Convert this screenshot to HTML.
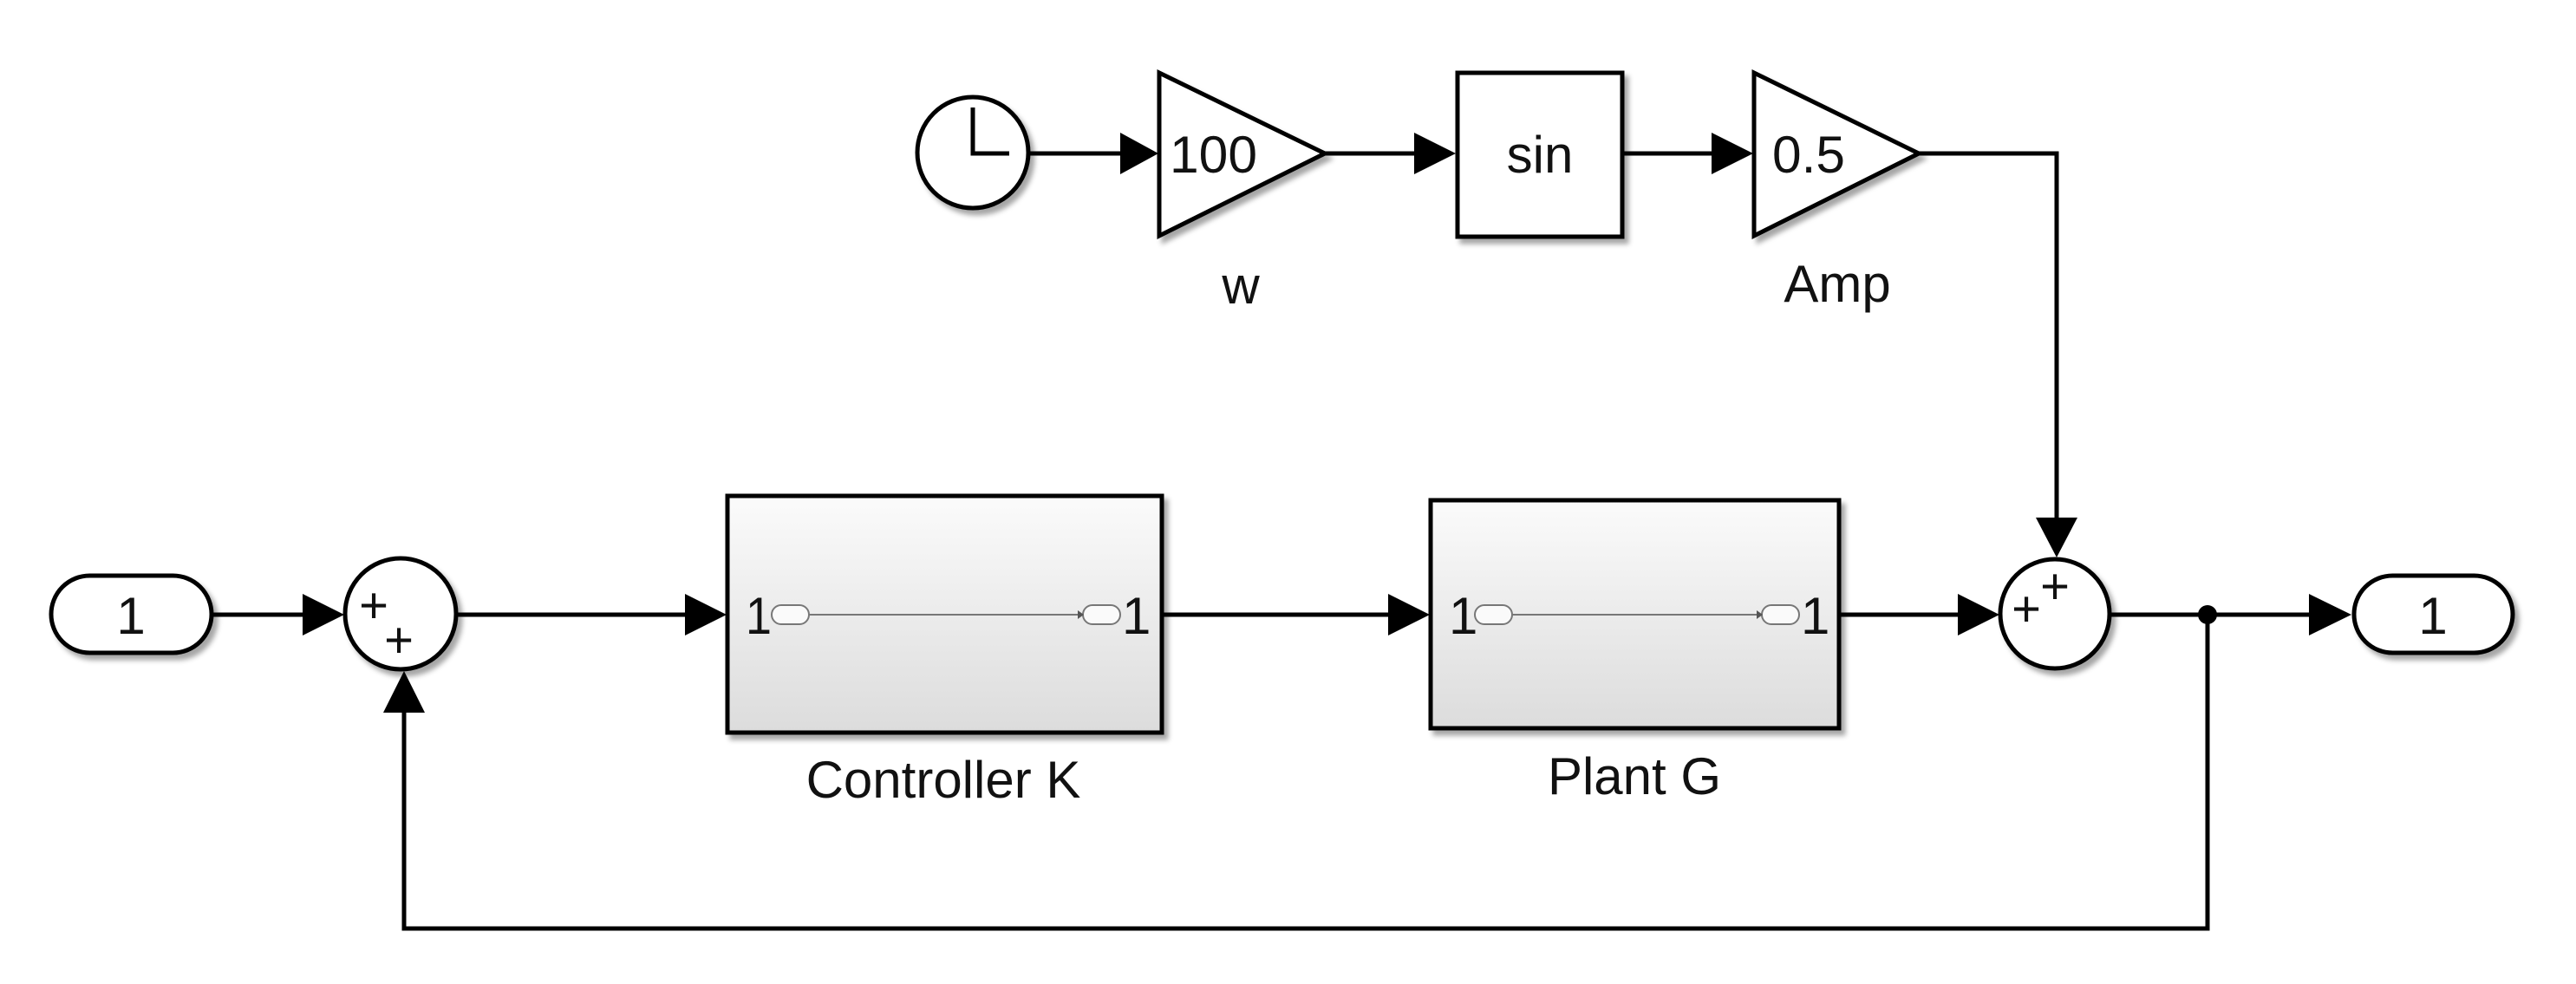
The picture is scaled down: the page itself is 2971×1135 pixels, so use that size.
<!DOCTYPE html>
<html><head><meta charset="utf-8"><style>
html,body{margin:0;padding:0;background:#fff;}
svg{display:block;}
text{font-family:"Liberation Sans",sans-serif;fill:#111;}
</style></head><body>
<svg width="2971" height="1135" viewBox="0 0 2971 1135" xmlns="http://www.w3.org/2000/svg">
<defs>
<linearGradient id="g" x1="0" y1="0" x2="0" y2="1">
<stop offset="0" stop-color="#fbfbfb"/><stop offset="1" stop-color="#dcdcdc"/>
</linearGradient>
<filter id="sh" x="-10%" y="-10%" width="130%" height="130%">
<feDropShadow dx="5" dy="6" stdDeviation="3" flood-color="#000" flood-opacity="0.35"/>
</filter>
</defs>
<g stroke="#000" stroke-width="5" fill="none">
<line x1="244" y1="709" x2="352" y2="709"/>
<line x1="526" y1="709" x2="793" y2="709"/>
<line x1="1340" y1="709" x2="1604" y2="709"/>
<line x1="2121" y1="709" x2="2261" y2="709"/>
<line x1="2433" y1="709" x2="2666" y2="709"/>
<polyline points="2546,709 2546,1071 466,1071 466,820"/>
<line x1="1187" y1="177" x2="1295" y2="177"/>
<line x1="1528" y1="177" x2="1634" y2="177"/>
<line x1="1871" y1="177" x2="1977" y2="177"/>
<polyline points="2213,177 2372,177 2372,600"/>
</g>
<g fill="#000">
<polygon points="349,685 397,709 349,733"/>
<polygon points="790,685 838,709 790,733"/>
<polygon points="1601,685 1649,709 1601,733"/>
<polygon points="2258,685 2306,709 2258,733"/>
<polygon points="2663,685 2712,709 2663,733"/>
<polygon points="442,822 466,774 490,822"/>
<polygon points="1292,153 1336,177 1292,201"/>
<polygon points="1631,153 1679,177 1631,201"/>
<polygon points="1974,153 2022,177 1974,201"/>
<polygon points="2348,597 2372,643 2396,597"/>
<circle cx="2546" cy="709" r="11"/>
</g>
<g filter="url(#sh)" stroke="#000" stroke-width="5">
<rect x="59" y="664" width="185" height="89" rx="44.5" fill="#fff"/>
<rect x="2715" y="664" width="183" height="89" rx="44.5" fill="#fff"/>
<circle cx="462" cy="708" r="64" fill="#fff"/>
<circle cx="2370" cy="708" r="63" fill="#fff"/>
<circle cx="1122" cy="176" r="64" fill="#fff"/>
<polygon points="1337,84 1528,177 1337,272" fill="#fff"/>
<rect x="1681" y="84" width="190" height="189" fill="#fff"/>
<polygon points="2023,84 2213,177 2023,272" fill="#fff"/>
<rect x="839" y="572" width="501" height="273" fill="url(#g)"/>
<rect x="1650" y="577" width="471" height="263" fill="url(#g)"/>
</g>
<polyline points="1122,124 1122,177 1164,177" stroke="#000" stroke-width="5" fill="none"/>
<g stroke="#777" stroke-width="2" fill="#fafafa">
<rect x="890" y="698" width="43" height="22" rx="11"/>
<rect x="1249" y="698" width="43" height="22" rx="11"/>
<line x1="933" y1="709" x2="1245" y2="709"/>
<rect x="1701" y="698" width="43" height="22" rx="11"/>
<rect x="2032" y="698" width="43" height="22" rx="11"/>
<line x1="1744" y1="709" x2="2028" y2="709"/>
</g>
<g fill="#555"><polygon points="1243,704 1250,709 1243,714"/><polygon points="2026,704 2033,709 2026,714"/></g>
<g font-size="60">
<text x="860" y="731" textLength="30" lengthAdjust="spacingAndGlyphs">1</text><text x="1294" y="731">1</text>
<text x="1671" y="731">1</text><text x="2077" y="731">1</text>
<text x="151" y="731" text-anchor="middle">1</text>
<text x="2806" y="731" text-anchor="middle">1</text>
<text x="1349" y="199" textLength="101" lengthAdjust="spacingAndGlyphs">100</text>
<text x="1776" y="199" text-anchor="middle">sin</text>
<text x="2044" y="199" textLength="84" lengthAdjust="spacingAndGlyphs">0.5</text>
</g>
<g font-size="60" text-anchor="middle">
<text x="1431" y="350">w</text>
<text x="2119" y="348">Amp</text>
<text x="1088" y="920">Controller K</text>
<text x="1885" y="916">Plant G</text>
</g>
<g font-size="58" text-anchor="middle">
<text x="431" y="718">+</text><text x="460" y="758">+</text>
<text x="2337" y="722">+</text><text x="2370" y="696">+</text>
</g>
</svg>
</body></html>
